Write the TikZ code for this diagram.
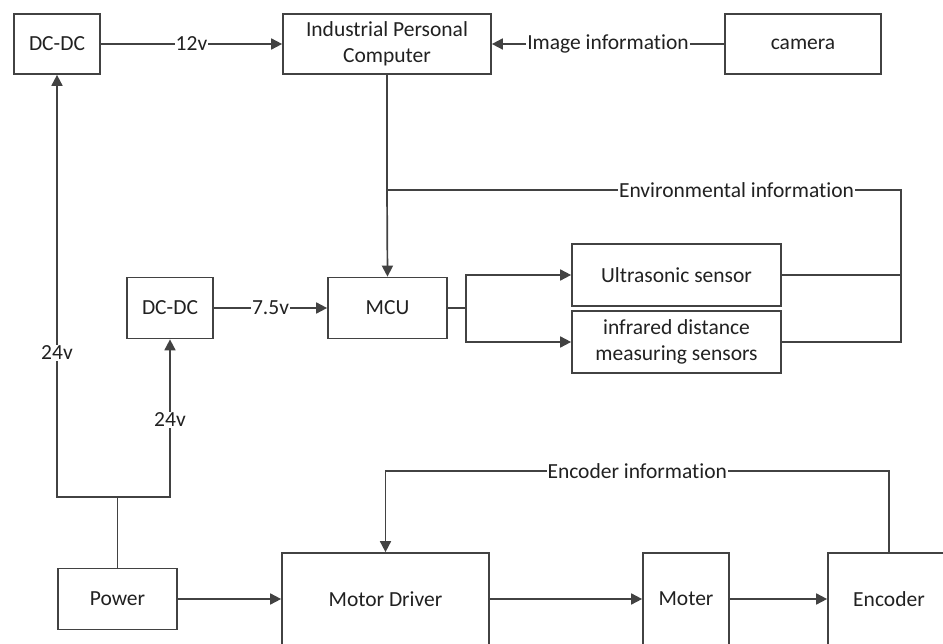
\documentclass[tikz,border=0pt]{standalone}
\usepackage{fontspec}
\setmainfont{Carlito}[Ligatures=NoCommon]
\usetikzlibrary{arrows.meta,positioning}
\definecolor{linegray}{rgb}{0.26,0.26,0.26}
\definecolor{textgray}{rgb}{0.13,0.13,0.13}

\begin{document}
\begin{tikzpicture}[
  x=1pt,y=-1pt,
  every node/.style={font=\fontsize{21.5}{26}\selectfont, text=textgray},
  blk/.style={draw=linegray, line width=1.7pt, align=center, inner sep=0pt, fill=white},
  arrow/.style={-{Triangle[length=11pt,width=11pt]}, line width=1.7pt, draw=linegray},
  wire/.style={line width=1.7pt, draw=linegray},
  lbl/.style={fill=white, inner sep=1pt}
]
\clip (0,0) rectangle (943,644);
\fill[white] (0,0) rectangle (943,644);

% top row
\node[blk, minimum width=86pt, minimum height=60pt] (dcdcA) at (57,44) {DC-DC};
\node[blk, minimum width=208pt, minimum height=60pt] (ipc) at (387,44) {Industrial Personal\\Computer};
\node[blk, minimum width=156pt, minimum height=60pt] (camera) at (803,44) {camera};

% middle row
\node[blk, minimum width=86pt, minimum height=61pt] (dcdcB) at (170,308) {DC-DC};
\node[blk, minimum width=119pt, minimum height=61pt] (mcu) at (387.5,308) {MCU};
\node[blk, minimum width=209pt, minimum height=62pt] (ultra) at (676.5,275) {Ultrasonic sensor};
\node[blk, minimum width=209pt, minimum height=62pt] (infra) at (676.5,342) {infrared distance\\measuring sensors};

% bottom row
\node[blk, minimum width=119pt, minimum height=61pt] (power) at (117.5,599) {Power};
\node[blk, minimum width=207pt, minimum height=92pt] (driver) at (385.5,599) {Motor Driver};
\node[blk, minimum width=86pt, minimum height=92pt] (moter) at (686,599) {Moter};
\node[blk, minimum width=122pt, minimum height=92pt] (encoder) at (889,599) {Encoder};

\coordinate (envR) at (901,190);
\coordinate (envL) at (387,190);
\coordinate (split) at (466,308);
\coordinate (pwrUp) at (117.5,497);
\coordinate (encUp) at (889,471);

\draw[arrow] (dcdcA) -- node[lbl]{12v} (ipc);
\draw[arrow] (camera) -- node[lbl]{Image information} (ipc);

\draw[wire] (ipc.south) -- (envL);
\draw[arrow] (ultra.east) -| (envR) -- node[lbl, pos=0.32]{Environmental information} (envL) -- (mcu.north);
\draw[wire] (infra.east) -| (envR);

\draw[arrow] (dcdcB) -- node[lbl]{7.5v} (mcu);
\draw[wire] (mcu.east) -- (split);
\draw[arrow] (split) |- (ultra.west);
\draw[arrow] (split) |- (infra.west);

\draw[wire] (power.north) -- (pwrUp);
\draw[arrow] (pwrUp) -| node[lbl, pos=0.671]{24v} (dcdcA.south);
\draw[arrow] (pwrUp) -| node[lbl, pos=0.745]{24v} (dcdcB.south);

\draw[arrow] (power) -- (driver);
\draw[arrow] (driver) -- (moter);
\draw[arrow] (moter) -- (encoder);
\draw[arrow] (encoder.north |- driver.north) -- (encUp) -- node[lbl]{Encoder information} (encUp -| driver.north) -- (driver.north);
\end{tikzpicture}
\end{document}
